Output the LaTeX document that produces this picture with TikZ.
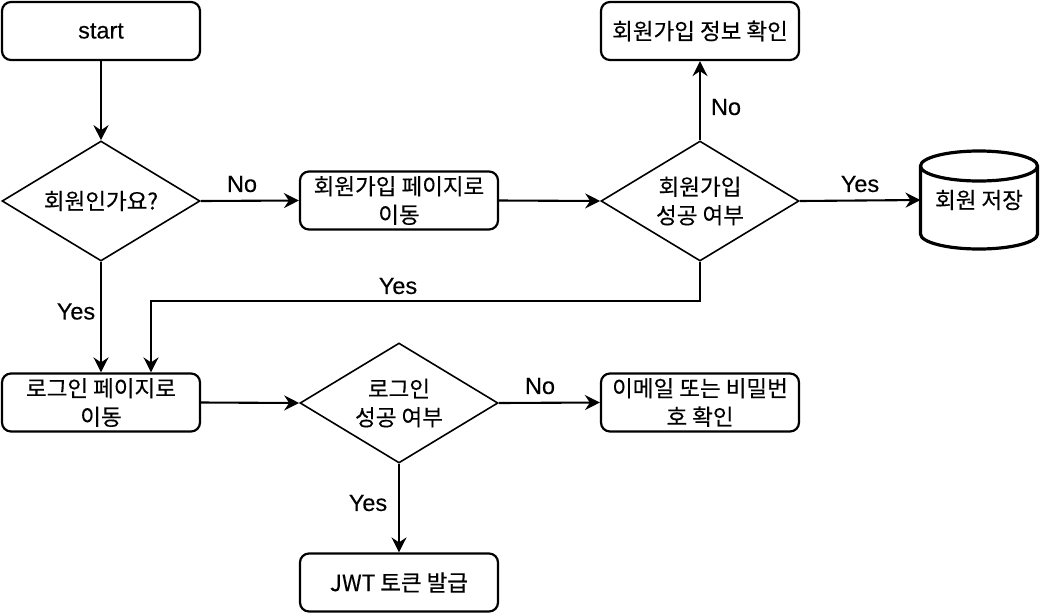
\documentclass[tikz,border=0pt]{standalone}
\usepackage{fontspec}
\setmainfont{Liberation Sans}[FakeBold=0.25]
\newfontfamily\kr{Noto Sans CJK KR}[FakeBold=0.25]
\usetikzlibrary{shapes.geometric,arrows.meta}
\newcommand{\krfont}{\kr\fontsize{22.5}{28.5}\selectfont}
\newcommand{\latfont}{\fontsize{23.5}{28.5}\selectfont}
\newcommand{\latsmall}{\fontsize{22.5}{28.5}\selectfont}
\begin{document}
\begin{tikzpicture}[x=1pt,y=-1pt,
  boxst/.style={draw, line width=2.2pt, rounded corners=9pt, minimum width=198pt, minimum height=58pt, inner sep=0pt, align=center, font=\krfont},
  dia/.style={draw, diamond, line width=1.6pt, minimum width=198pt, minimum height=120pt, inner sep=0pt},
  diatext/.style={align=center, font=\krfont},
  arr/.style={line width=2.1pt, -{Stealth[length=15pt,width=15pt,inset=5pt]}},
  lbl/.style={font=\latfont, inner sep=0pt},
  cylst/.style={line width=3.2pt}
]
\useasboundingbox (0,0) rectangle (1044,614);
\fill[white] (0,0) rectangle (1044,614);

% nodes
\node[boxst, font=\latfont] (start) at (101,31) {start};
\node[dia, label={[diatext]center:회원인가요?}] (d1) at (101,201) {};
\node[boxst] (r1) at (399,200.5) {회원가입 페이지로\\이동};
\node[dia, label={[diatext]center:회원가입\\성공 여부}] (d2) at (700,201) {};
\node[boxst] (r2) at (700,31) {회원가입 정보 확인};
\node[minimum width=117pt, minimum height=98pt, inner sep=0pt, outer sep=0pt, font=\krfont] (cyl) at (979,200) {회원 저장};
\draw[cylst] ([yshift=-15pt]cyl.north west) -- ([yshift=15pt]cyl.south west)
  arc[start angle=180, end angle=360, x radius=58.5pt, y radius=15pt]
  -- ([yshift=-15pt]cyl.north east)
  arc[start angle=0, end angle=180, x radius=58.5pt, y radius=15pt]
  arc[start angle=180, end angle=360, x radius=58.5pt, y radius=15pt];
\node[boxst] (r3) at (101,402.5) {로그인 페이지로\\이동};
\node[dia, label={[diatext]center:로그인\\성공 여부}] (d3) at (399,403) {};
\node[boxst] (r4) at (700,402.5) {이메일 또는 비밀번\\호 확인};
\node[boxst] (r5) at (399,582.5) {{\latsmall JWT} 토큰 발급};

% connectors
\draw[arr] (start.south) -- (d1.north);
\draw[arr] (d1.east) -- (r1.west);
\draw[arr] (r1.east) -- (d2.west);
\draw[arr] (d2.north) -- (r2.south);
\draw[arr] (d2.east) -- (cyl.west);
\draw[arr] (d2.south) -- ++(0,39) -| ([xshift=50pt]r3.north);
\draw[arr] (d1.south) -- (r3.north);
\draw[arr] (r3.east) -- (d3.west);
\draw[arr] (d3.east) -- (r4.west);
\draw[arr] (d3.south) -- (r5.north);

% labels
\node[lbl] (lno1) at (242,184) {No};
\node[lbl] (lno2) at (726,107) {No};
\node[lbl] (lyes1) at (860,184) {Yes};
\node[lbl] (lyes2) at (398,286) {Yes};
\node[lbl] (lyes3) at (76,311.5) {Yes};
\node[lbl] (lno3) at (540,386) {No};
\node[lbl] (lyes4) at (368,503) {Yes};
\end{tikzpicture}
\end{document}
